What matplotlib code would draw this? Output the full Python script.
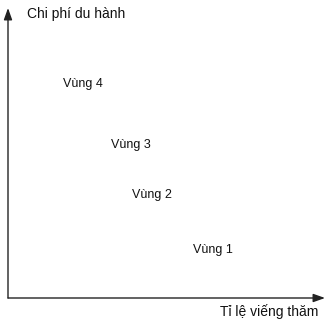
import matplotlib
matplotlib.use("Agg")
import matplotlib.pyplot as plt

regions = ["Vùng 4", "Vùng 3", "Vùng 2", "Vùng 1"]
visit_rate = [2.37, 3.88, 4.54, 6.47]
travel_cost = [7.38, 5.28, 3.55, 1.66]
x_label = "Tỉ lệ viếng thăm"
y_label = "Chi phí du hành"

plt.rcParams['font.family'] = ['Liberation Sans', 'DejaVu Sans']

fig = plt.figure(figsize=(3.31, 3.22), dpi=100)
ax = fig.add_axes([8/331, 24/322, 317/331, 290/322])
ax.set_xlim(0, 10)
ax.set_ylim(0, 10)
ax.axis('off')

# axes arrows
ax.annotate('', xy=(1.0, 0.0), xytext=(0.0, 0.0), xycoords='axes fraction',
            arrowprops=dict(arrowstyle='-|>,head_length=0.7,head_width=0.25',
                            color='#222222', lw=1.0, shrinkA=0, shrinkB=0))
ax.annotate('', xy=(0.0, 1.0), xytext=(0.0, 0.0), xycoords='axes fraction',
            arrowprops=dict(arrowstyle='-|>,head_length=0.7,head_width=0.25',
                            color='#222222', lw=1.0, shrinkA=0, shrinkB=0))

for name, x, y in zip(regions, visit_rate, travel_cost):
    ax.text(x, y, name, ha='center', va='center', fontsize=9, color='#111111')

fig.text(27/331, 1 - 14/322, y_label, ha='left', va='center', fontsize=10, color='#111111')
fig.text(318/331, 1 - 312/322, x_label, ha='right', va='center', fontsize=10, color='#111111')

fig.savefig("out.png", dpi=100, facecolor='white')
